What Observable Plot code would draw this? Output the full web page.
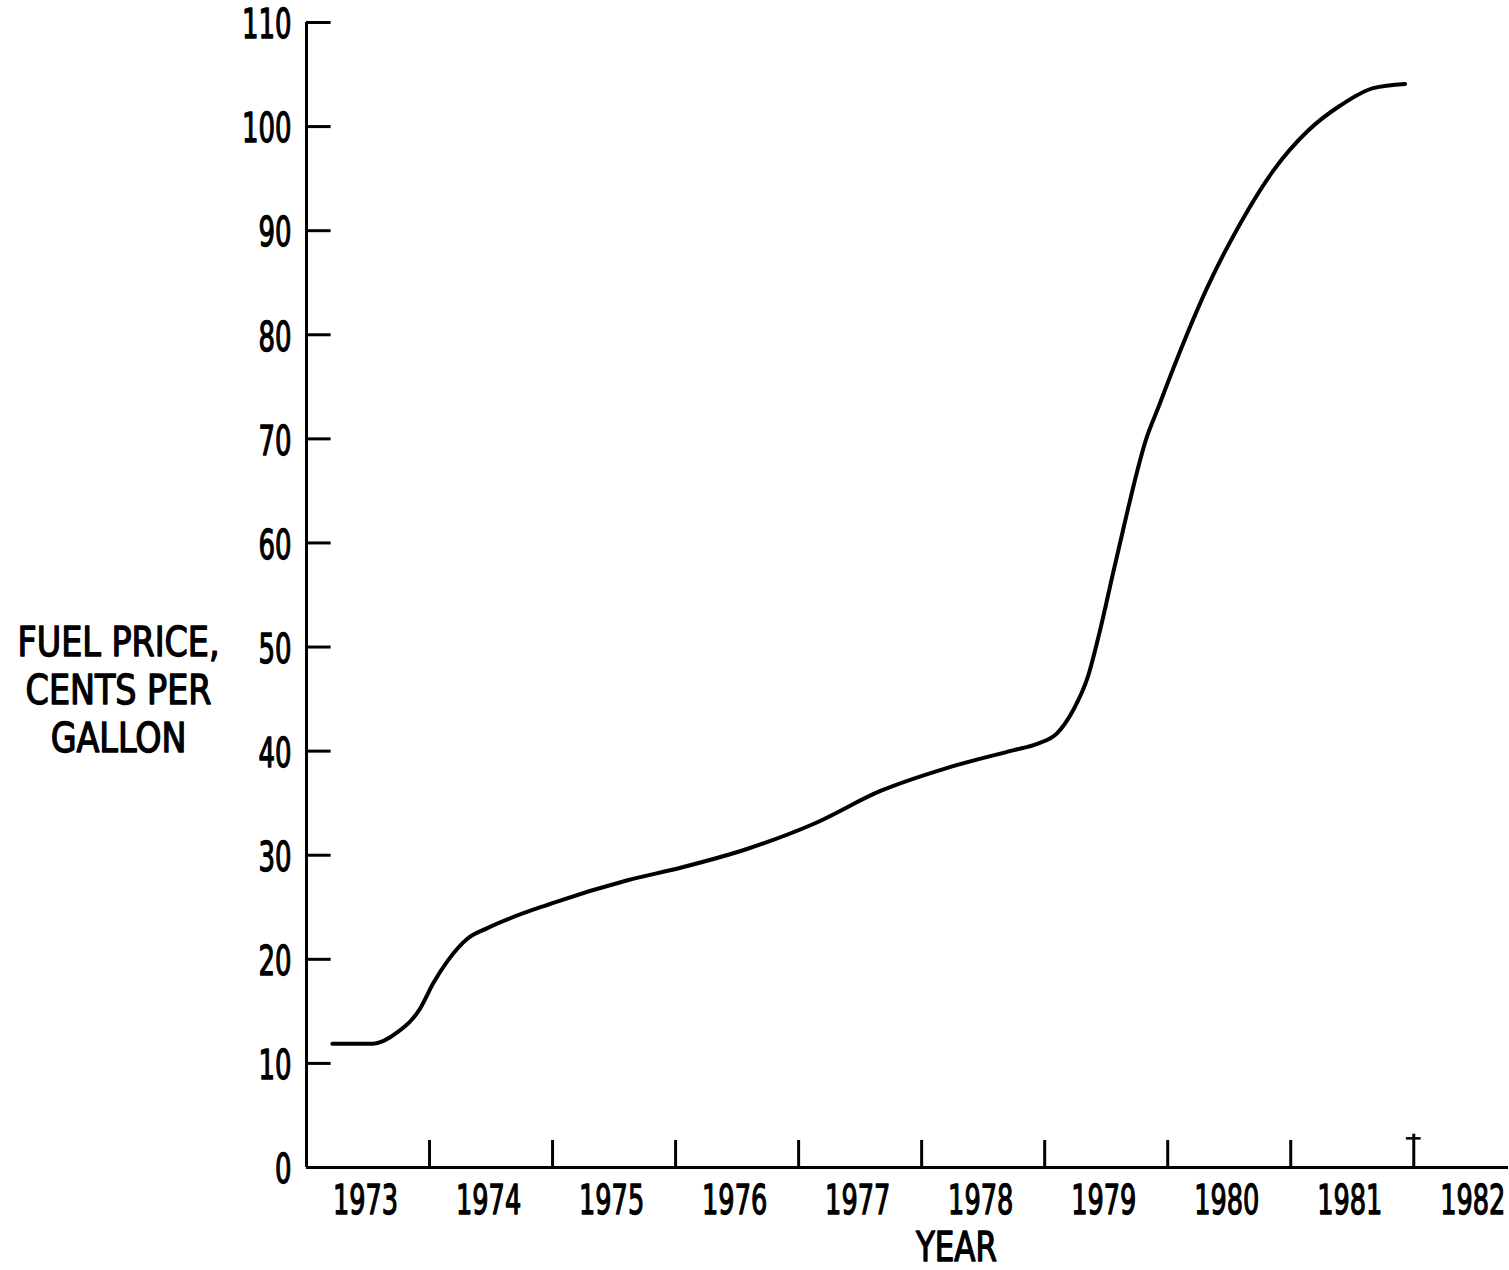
<!DOCTYPE html>
<html><head><meta charset="utf-8">
<script src="https://cdn.jsdelivr.net/npm/d3@7"></script>
<script src="https://cdn.jsdelivr.net/npm/@observablehq/plot@0.6"></script>
<style>body{margin:0;background:#fff}</style>
</head><body><div id="chart"></div>
<script>
// Fuel price curve (year, cents per gallon)
const years  = [1973.21, 1973.54, 1973.74, 1973.92, 1974.03, 1974.15, 1974.31, 1974.47, 1975.0, 1975.61, 1976.04, 1976.58, 1977.12, 1977.67, 1978.21, 1978.75, 1978.94, 1979.10, 1979.23, 1979.35, 1979.45, 1979.55, 1979.65, 1979.75, 1979.82, 1979.93, 1980.05, 1980.32, 1980.59, 1980.86, 1981.14, 1981.40, 1981.67, 1981.93];
const prices = [11.9, 11.9, 13.0, 15.2, 17.7, 19.9, 22.0, 23.0, 25.4, 27.6, 28.8, 30.6, 33.0, 36.2, 38.4, 40.1, 40.7, 41.7, 43.9, 47.1, 51.6, 56.8, 61.9, 66.8, 69.8, 73.2, 76.9, 84.5, 90.7, 95.8, 99.6, 102.0, 103.7, 104.1];

const yTicks = [0, 10, 20, 30, 40, 50, 60, 70, 80, 90, 100, 110];
const yearBoundaries = [1974, 1975, 1976, 1977, 1978, 1979, 1980, 1981];
const markedBoundary = [1982];
const yearLabels = [1973, 1974, 1975, 1976, 1977, 1978, 1979, 1980, 1981, 1982];
const yTitle = "FUEL PRICE,\nCENTS PER\nGALLON";
const xTitle = "YEAR";
const xDomain = [1973, 1982.77];
const yDomain = [0, 110];

const data = years.map((x, i) => ({year: x, price: prices[i]}));
const font = '"DejaVu Sans Condensed", "Liberation Sans Narrow", "Roboto", sans-serif';

const chart = Plot.plot({
  width: 1509, height: 1270,
  marginLeft: 306, marginRight: 1, marginTop: 22, marginBottom: 103,
  x: {domain: xDomain},
  y: {domain: yDomain},
  style: {fontFamily: font, fontSize: "40px", color: "black", background: "white"},
  marks: [
    Plot.ruleX([xDomain[0]], {y1: yDomain[0], y2: yDomain[1], stroke: "black", strokeWidth: 3}),
    Plot.ruleY([0], {x1: xDomain[0], x2: xDomain[1], stroke: "black", strokeWidth: 3}),
    Plot.ruleY(yTicks.filter(d => d > 0), {x1: xDomain[0], x2: xDomain[0] + 0.2, stroke: "black", strokeWidth: 3}),
    Plot.ruleX(yearBoundaries, {y1: 0, y2: 2.6, stroke: "black", strokeWidth: 3}),
    Plot.ruleX(markedBoundary, {y1: 0, y2: 3.2, stroke: "black", strokeWidth: 3}),
    Plot.ruleY(markedBoundary, {x1: d => d - 0.06, x2: d => d + 0.06, y: () => 2.8, stroke: "black", strokeWidth: 2.5}),
    Plot.axisY({ticks: yTicks, tickSize: 0, tickPadding: 15, dy: 3, fontSize: 40, label: null}),
    Plot.axisX({ticks: yearLabels.map(d => d + 0.48), tickFormat: d => String(Math.floor(d)), tickSize: 0, tickPadding: 18, fontSize: 40, label: null}),
    Plot.line(data, {x: "year", y: "price", curve: "monotone-x", stroke: "black", strokeWidth: 4}),
    Plot.text([yTitle], {frameAnchor: "left", dx: -188, dy: 94, textAnchor: "middle", lineAnchor: "middle", lineHeight: 1.2, fontSize: 40}),
    Plot.text([xTitle], {frameAnchor: "bottom", dx: 49, dy: 81, lineAnchor: "middle", fontSize: 40})
  ]
});
document.getElementById("chart").appendChild(chart);

// Condense and thicken the lettering to match the narrow, heavy typeface of the original
const ns = "http://www.w3.org/2000/svg";
function condense(texts, widthOf) {
  texts.forEach(t => {
    t.setAttribute("stroke", "black");
    t.setAttribute("stroke-width", "1.3");
    t.setAttribute("stroke-linejoin", "round");
    const r = t.getBoundingClientRect();
    const sx = widthOf(t.textContent) / r.width;
    const anchor = getComputedStyle(t).textAnchor;
    const ax = anchor === "end" ? r.right : anchor === "middle" ? r.x + r.width / 2 : r.left;
    const ay = r.y + r.height / 2;
    const parent = t.parentNode;
    const m = parent.getScreenCTM().inverse();
    const p = new DOMPoint(ax, ay).matrixTransform(m);
    const g = document.createElementNS(ns, "g");
    g.setAttribute("transform", `translate(${p.x},${p.y}) scale(${sx},1) translate(${-p.x},${-p.y})`);
    parent.insertBefore(g, t);
    g.appendChild(t);
  });
}
const allText = [...chart.querySelectorAll("text")];
condense([...chart.querySelectorAll('g[aria-label="y-axis tick label"] text')], s => 16.5 * s.length);
condense([...chart.querySelectorAll('g[aria-label="x-axis tick label"] text')], s => 16.3 * s.length);
condense(allText.filter(t => t.textContent.startsWith("FUEL")), () => 202);
condense(allText.filter(t => t.textContent === xTitle), () => 82);
</script>
</body></html>
